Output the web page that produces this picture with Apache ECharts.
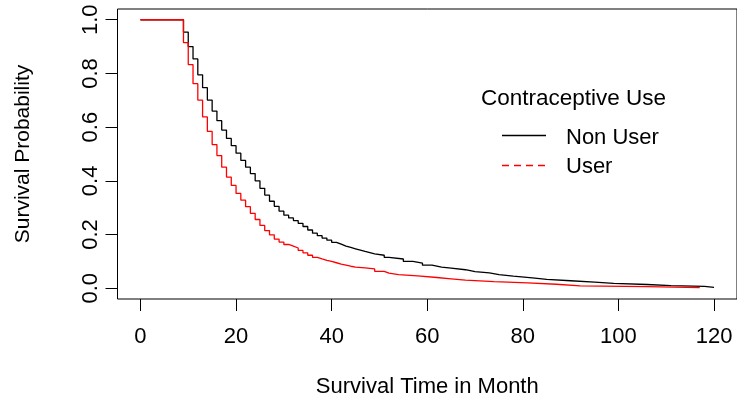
<!DOCTYPE html>
<html><head><meta charset="utf-8">
<script src="https://cdn.jsdelivr.net/npm/echarts@6/dist/echarts.min.js"></script>
<style>html,body{margin:0;padding:0;background:#fff}#c{width:737px;height:403px}</style>
</head><body><div id="c"></div>
<script>
const xTicks = [0, 20, 40, 60, 80, 100, 120];
const yTicks = [0, 0.2, 0.4, 0.6, 0.8, 1.0];
const groupNames = ['Non User', 'User'];
const legendTitle = 'Contraceptive Use';

const nonUserTime = [0, 9, 10, 11, 12, 13, 14, 15, 16, 17, 18, 19, 20, 21, 22, 23, 24, 25, 26, 27, 28, 29, 30,
  31, 32, 33, 34, 35, 36, 37, 38, 39, 40, 41, 42, 43, 44, 45, 46, 47, 48, 49, 51, 52, 55, 57, 59, 61, 63, 65,
  68, 70, 73, 75, 78, 82, 85, 90, 95, 99, 106, 111, 118, 120];
const nonUserSurv = [1.0, 0.954, 0.900, 0.854, 0.795, 0.747, 0.701, 0.660, 0.624, 0.589, 0.558, 0.531, 0.503,
  0.476, 0.451, 0.427, 0.400, 0.372, 0.347, 0.324, 0.305, 0.287, 0.272, 0.262, 0.252, 0.242, 0.230, 0.217,
  0.205, 0.196, 0.187, 0.179, 0.171, 0.164, 0.157, 0.152, 0.147, 0.142, 0.137, 0.133, 0.128, 0.123, 0.115,
  0.109, 0.100, 0.094, 0.086, 0.079, 0.075, 0.069, 0.062, 0.057, 0.051, 0.045, 0.039, 0.033, 0.028, 0.023,
  0.018, 0.014, 0.010, 0.007, 0.003, 0.003];

const userTime = [0, 9, 10, 11, 12, 13, 14, 15, 16, 17, 18, 19, 20, 21, 22, 23, 24, 25, 26, 27, 28, 29, 30,
  31, 32, 33, 34, 35, 36, 37, 38, 39, 40, 41, 42, 43, 44, 45, 47, 49, 51, 52, 54, 58, 62, 65, 68, 74, 81, 87,
  92, 106, 117];
const userSurv = [1.0, 0.915, 0.833, 0.762, 0.701, 0.638, 0.584, 0.535, 0.494, 0.451, 0.414, 0.383, 0.353,
  0.328, 0.304, 0.279, 0.256, 0.234, 0.215, 0.199, 0.183, 0.172, 0.163, 0.157, 0.150, 0.141, 0.132, 0.123,
  0.115, 0.109, 0.104, 0.100, 0.095, 0.090, 0.086, 0.082, 0.079, 0.076, 0.072, 0.063, 0.056, 0.051, 0.046,
  0.040, 0.035, 0.030, 0.025, 0.020, 0.015, 0.009, 0.006, 0.002, 0.002];

const pairs = (t, s) => t.map((v, i) => [v, s[i]]);
const FONT = 'Liberation Sans, Arial, sans-serif';
const chart = echarts.init(document.getElementById('c'), null, {renderer: 'canvas'});

chart.setOption({
  animation: false,
  backgroundColor: '#ffffff',
  grid: {left: 117.5, top: 9, width: 623, height: 292.5, show: true, borderColor: '#000', borderWidth: 1,
    backgroundColor: 'transparent'},
  xAxis: {
    type: 'value', min: -4.8, max: 124.8,
    name: 'Survival Time in Month', nameLocation: 'middle', nameGap: 77,
    nameTextStyle: {fontFamily: FONT, fontSize: 22, color: '#000'},
    axisLine: {show: false, onZero: false},
    axisTick: {show: true, length: 12, customValues: xTicks, lineStyle: {color: '#000', width: 1}},
    axisLabel: {customValues: xTicks, margin: 27, fontFamily: FONT, fontSize: 22, color: '#000'},
    splitLine: {show: false}
  },
  yAxis: {
    type: 'value', min: -0.04, max: 1.04,
    name: 'Survival Probability', nameLocation: 'middle', nameGap: 84, nameRotate: 90,
    nameTextStyle: {fontFamily: FONT, fontSize: 21, color: '#000'},
    axisLine: {show: false, onZero: false},
    axisTick: {show: true, length: 12, customValues: yTicks, lineStyle: {color: '#000', width: 1}},
    axisLabel: {customValues: yTicks, rotate: 90, margin: 16, fontFamily: FONT, fontSize: 22, color: '#000',
      formatter: v => v.toFixed(1)},
    splitLine: {show: false}
  },
  series: [
    {name: groupNames[0], type: 'line', step: 'end', showSymbol: false, data: pairs(nonUserTime, nonUserSurv),
      lineStyle: {color: '#000', width: 1.3}, itemStyle: {color: '#000'}},
    {name: groupNames[1], type: 'line', step: 'end', showSymbol: false, data: pairs(userTime, userSurv),
      lineStyle: {color: '#ff0000', width: 1.3}, itemStyle: {color: '#ff0000'}}
  ],
  graphic: [
    {type: 'text', x: 481, y: 99, style: {text: legendTitle, font: '22.5px ' + FONT, fill: '#000',
      verticalAlign: 'middle'}},
    {type: 'line', shape: {x1: 502, y1: 135.5, x2: 546, y2: 135.5}, style: {stroke: '#000', lineWidth: 1.3}},
    {type: 'line', shape: {x1: 502, y1: 165.5, x2: 546, y2: 165.5},
      style: {stroke: '#ff0000', lineWidth: 1.3, lineDash: [7, 5]}},
    {type: 'text', x: 566, y: 138, style: {text: groupNames[0], font: '22px ' + FONT, fill: '#000',
      verticalAlign: 'middle'}},
    {type: 'text', x: 566, y: 166.5, style: {text: groupNames[1], font: '22px ' + FONT, fill: '#000',
      verticalAlign: 'middle'}}
  ]
});
</script></body></html>
